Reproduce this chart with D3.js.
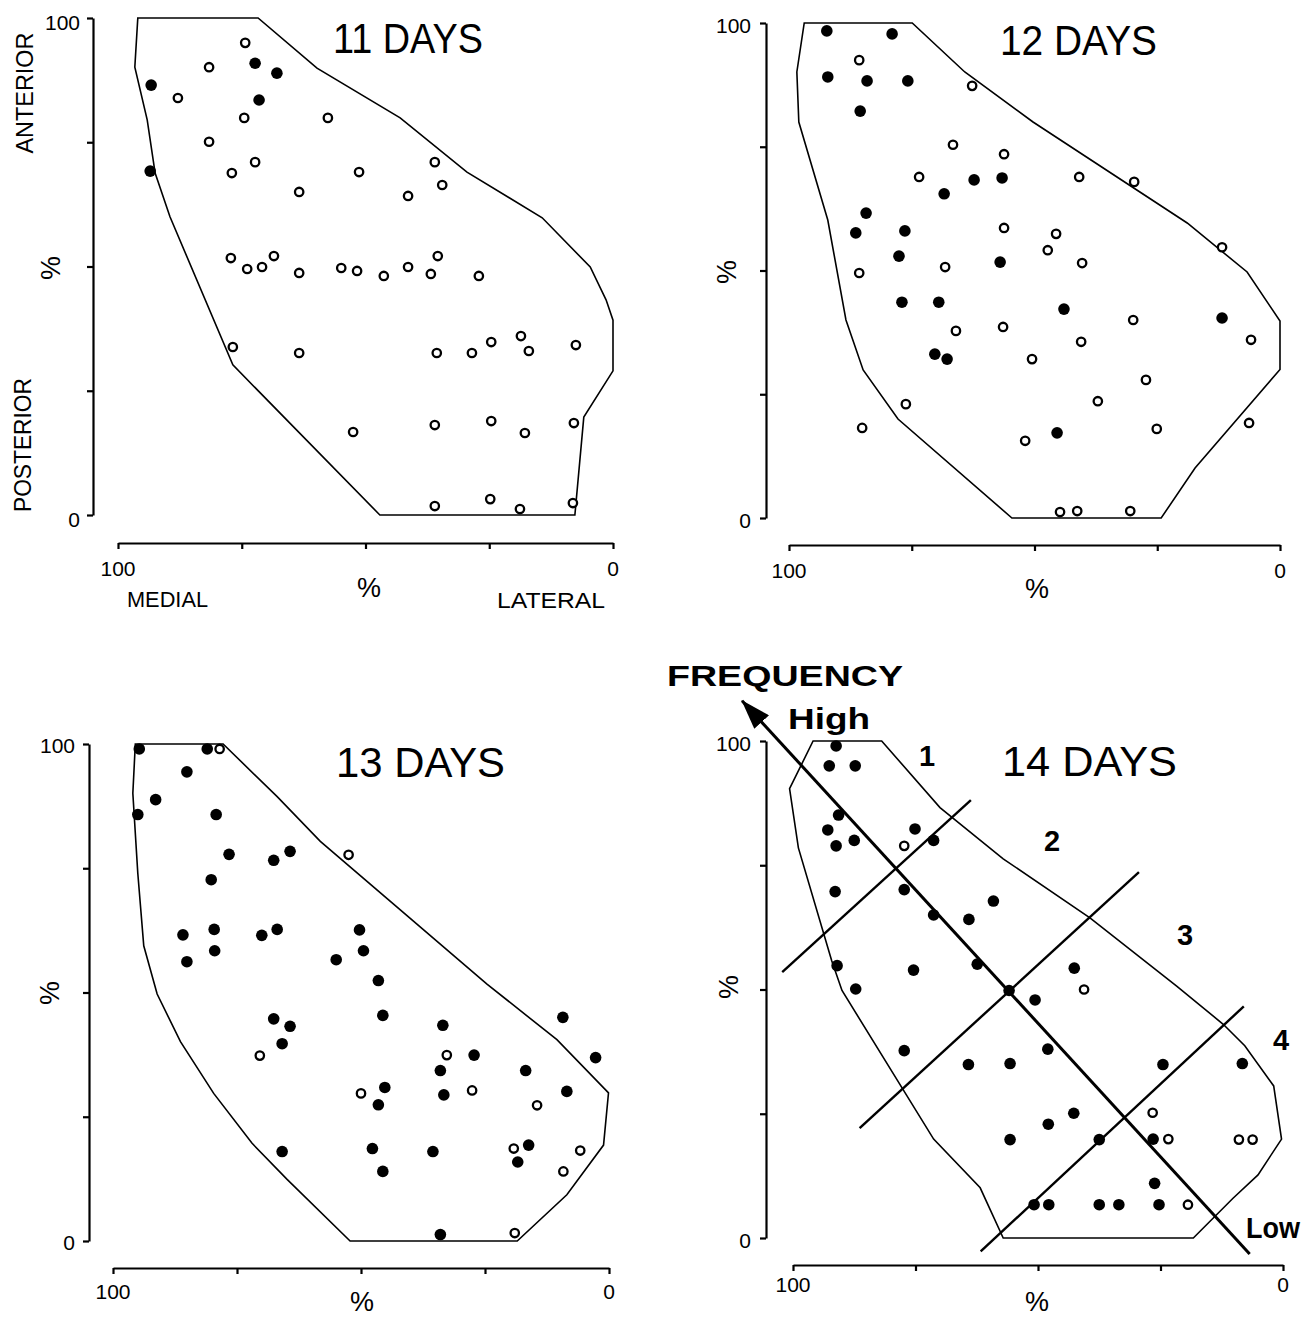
<!DOCTYPE html>
<html><head><meta charset="utf-8">
<script src="https://cdn.jsdelivr.net/npm/d3@7"></script>
<style>body{margin:0;background:#fff}svg{display:block}</style>
</head><body>
<svg id="c" width="1306" height="1317"></svg>
<script>
// ---------------- DATA ----------------
const yTickValues = [0, 25, 50, 75, 100];
const xTickValues = [100, 75, 50, 25, 0];
const endTickLabels = [100, 0];
const titles = ["11 DAYS", "12 DAYS", "13 DAYS", "14 DAYS"];
const axisWords = { medial: "MEDIAL", lateral: "LATERAL", anterior: "ANTERIOR", posterior: "POSTERIOR", pct: "%" };

// 11 days
const d11Outline = [[96,100],[71.7,100],[59.8,89.9],[43,79.9],[29.5,69],[14.3,59.8],[4.6,49.9],[1.4,43.3],[0,39.2],[0,29],[5.9,19.7],[7.7,0],[47.1,0],[76.8,30.2],[89.5,60],[92.5,68.8],[94.1,79.5],[96.6,90.1]];
const d11Filled = [[72.3,90.9],[67.9,88.9],[93.3,86.5],[71.5,83.5],[93.5,69.2]];
const d11Open = [[74.3,95.0],[81.6,90.1],[87.9,83.9],[74.5,79.9],[57.6,79.9],[81.6,75.1],[72.3,71.0],[77.0,68.8],[63.4,65.0],[51.3,69.0],[36.0,71.0],[34.5,66.4],[41.4,64.2],
 [77.2,51.7],[73.9,49.5],[70.9,49.9],[68.5,52.1],[63.4,48.7],[54.9,49.7],[51.7,49.1],[46.3,48.1],[41.4,49.9],[36.8,48.5],[35.4,52.1],[27.1,48.1],
 [76.8,33.8],[63.4,32.6],[35.6,32.6],[28.5,32.6],[24.6,34.8],[18.6,36.0],[17.0,33.0],[7.5,34.2],
 [52.5,16.7],[36.0,18.1],[24.6,18.9],[17.8,16.5],[7.9,18.5],
 [36.0,1.8],[24.8,3.2],[18.8,1.2],[8.1,2.4]];

// 12 days
const d12Outline = [[96.9,100],[74.9,100],[64.2,90.1],[50.3,80],[18.9,59.6],[6.7,49.7],[0,39.8],[0,30],[17.3,10.1],[24.2,0],[54.6,0],[77.8,20],[84.9,29.9],[88.4,40],[92.1,60.2],[98,80],[98.4,90.1]];
const d12Filled = [[92.3,98.4],[79.0,97.8],[92.1,89.1],[84.1,88.3],[75.8,88.3],[85.5,82.2],[62.3,68.3],[56.6,68.7],[68.4,65.5],[84.3,61.6],[86.4,57.6],[76.4,58.0],[77.6,52.9],[57.0,51.7],[77.0,43.6],[69.5,43.6],[70.3,33.1],[67.8,32.1],[44.0,42.2],[11.8,40.4],[45.4,17.2]];
const d12Open = [[85.7,92.5],[62.7,87.3],[66.6,75.4],[56.2,73.5],[73.5,68.9],[56.2,58.6],[68.2,50.7],[85.7,49.5],[66.0,37.8],[56.4,38.6],[76.2,23.0],[85.1,18.2],
 [40.9,68.9],[29.7,67.9],[11.8,54.7],[45.6,57.4],[47.3,54.1],[40.3,51.5],
 [29.9,40.0],[5.9,36.0],[40.5,35.6],[50.5,32.1],[27.3,27.9],[37.1,23.6],[51.9,15.6],[25.1,18.0],[6.3,19.2],[44.8,1.2],[41.3,1.4],[30.5,1.4]];

// 13 days
const d13Outline = [[95.5,100],[77.8,100],[66.9,89.4],[58.2,80.4],[24.6,51.7],[10.5,40.5],[0.1,29.8],[1.1,19.3],[8.5,9.3],[18.5,0],[52.2,0],[64.9,12.4],[72,19.7],[79.7,29.7],[86.4,40.1],[91.1,49.7],[93.8,59.4],[95,74],[96,90.1]];
const d13Filled = [[94.7,99.0],[81.0,99.0],[85.1,94.4],[91.4,88.8],[95.0,85.8],[79.2,85.8],[76.6,77.8],[67.6,76.6],[64.3,78.4],[80.2,72.7],[85.9,61.6],[79.6,62.7],[70.0,61.5],[66.9,62.7],[85.1,56.2],[79.5,58.4],[55.0,56.6],[50.3,62.6],[49.5,58.4],[67.6,44.7],[64.3,43.2],[65.9,39.7],[65.9,18.0],
 [46.5,52.4],[45.6,45.4],[33.5,43.4],[27.2,37.4],[34.0,34.3],[33.3,29.4],[45.2,30.9],[46.5,27.4],[47.7,18.6],[45.6,14.0],[35.5,18.0],[34.0,1.3],[16.8,34.3],[9.3,45.0],[2.7,36.9],[8.5,30.1],[16.2,19.3],[18.4,15.9]];
const d13Open = [[78.5,99.0],[52.5,77.7],[70.4,37.3],[50.0,29.7],[32.7,37.4],[27.6,30.3],[14.5,27.3],[19.2,18.6],[5.8,18.2],[9.2,14.0],[19.0,1.6]];

// 14 days
const d14Outline = [[95.9,100],[81.9,100],[70,86.6],[57.1,76.3],[39.4,64.4],[21.7,50.7],[12.2,43],[7.8,38.7],[1.9,30.6],[0.3,19.9],[5.1,12.7],[10.2,8],[18.3,0],[57.1,0],[61.8,10.1],[71.3,19.9],[90,49.8],[92.1,55.8],[98.9,78.5],[100.7,90.4]];
const d14Filled = [[91.2,99.0],[92.6,95.0],[87.3,95.0],[90.7,85.1],[92.9,82.1],[91.2,78.9],[87.5,80.0],[75.1,82.3],[71.3,80.0],[91.4,69.7],[77.3,70.1],[71.3,65.0],[64.1,64.1],[62.4,55.1],[91.0,54.8],[75.4,53.9],[87.2,50.1],[77.3,37.7],[64.2,34.9],
 [59.1,67.8],[42.6,54.3],[55.9,49.8],[50.6,47.9],[48.0,38.0],[55.7,35.1],[24.5,34.9],[8.3,35.1],[42.7,25.1],[47.9,22.9],[55.7,19.8],[37.5,19.8],[26.5,19.9],[26.2,11.0],[50.8,6.7],[47.8,6.7],[37.5,6.7],[33.5,6.7],[25.3,6.7]];
const d14Open = [[77.3,78.9],[40.6,50.0],[26.6,25.2],[23.4,19.9],[9.0,19.8],[6.2,19.8],[19.4,6.7]];

// frequency gradient overlay (14 days)
const freqAxisLow = [6.8, -3.2];
const freqAxisHigh = [110.4, 108.1];
const freqDividers = [[[102.2,53.5],[63.7,88.1]], [[86.4,22.1],[29.4,73.6]], [[61.7,-2.7],[8.0,46.6]]];
const freqZones = ["1", "2", "3", "4"];
const freqWords = { title: "FREQUENCY", high: "High", low: "Low" };

// ---------------- LAYOUT ----------------
const FONT = "'Liberation Sans', Arial, Helvetica, sans-serif";
const panels = [
  { outline: d11Outline, filled: d11Filled, open: d11Open,
    x100: 118, x0: 613, y100: 18, y0: 515, axX: 93, axY: 543,
    title: { x: 333, y: 53, w: 150 }, yLabDx: 13, yLabDy: 12, xLabY: 576,
    pctX: { x: 369, y: 597 }, pctY: { x: 51, y: 268 }, words: true },
  { outline: d12Outline, filled: d12Filled, open: d12Open,
    x100: 789, x0: 1280, y100: 23, y0: 518, axX: 766, axY: 545,
    title: { x: 1000, y: 55, w: 157 }, yLabDx: 15, yLabDy: 10, xLabY: 578,
    pctX: { x: 1037, y: 598 }, pctY: { x: 727, y: 272 } },
  { outline: d13Outline, filled: d13Filled, open: d13Open,
    x100: 113, x0: 609, y100: 744, y0: 1241, axX: 89, axY: 1268,
    title: { x: 336, y: 777, w: 169 }, yLabDx: 14, yLabDy: 9, xLabY: 1299,
    pctX: { x: 362, y: 1311 }, pctY: { x: 50, y: 993 } },
  { outline: d14Outline, filled: d14Filled, open: d14Open,
    x100: 793, x0: 1283, y100: 741, y0: 1238, axX: 766, axY: 1265,
    title: { x: 1002, y: 776, w: 175 }, yLabDx: 15, yLabDy: 10, xLabY: 1292,
    pctX: { x: 1037, y: 1311 }, pctY: { x: 729, y: 987 }, freq: true }
];

const svg = d3.select("#c");
svg.append("rect").attr("width", 1306).attr("height", 1317).attr("fill", "#fff");
const defs = svg.append("defs");
defs.append("marker").attr("id", "arr").attr("viewBox", "0 0 30 20")
  .attr("refX", 29).attr("refY", 10).attr("markerWidth", 30).attr("markerHeight", 20)
  .attr("markerUnits", "userSpaceOnUse").attr("orient", "auto")
  .append("path").attr("d", "M0,0 L30,10 L0,20 Z").attr("fill", "#000");

panels.forEach((p, i) => {
  const x = d3.scaleLinear().domain([100, 0]).range([p.x100, p.x0]);
  const y = d3.scaleLinear().domain([0, 100]).range([p.y0, p.y100]);
  const g = svg.append("g");

  // axes
  const ya = d3.axisLeft(y).tickValues(yTickValues).tickSize(6).tickSizeOuter(0).tickFormat("");
  const gy = g.append("g").attr("transform", `translate(${p.axX},0)`).call(ya);
  const xa = d3.axisBottom(x).tickValues(xTickValues).tickSize(6).tickSizeOuter(0).tickFormat("");
  const gx = g.append("g").attr("transform", `translate(0,${p.axY})`).call(xa);
  [gy, gx].forEach(a => { a.selectAll("path,line").attr("stroke", "#000").attr("stroke-width", 2.2); });

  // tick labels
  endTickLabels.forEach(v => {
    g.append("text").attr("x", p.axX - p.yLabDx).attr("y", y(v) + p.yLabDy)
      .attr("text-anchor", "end").attr("font-family", FONT).attr("font-size", 21).text(v);
    g.append("text").attr("x", x(v)).attr("y", p.xLabY)
      .attr("text-anchor", "middle").attr("font-family", FONT).attr("font-size", 21).text(v);
  });
  g.append("text").attr("x", p.pctX.x).attr("y", p.pctX.y).attr("text-anchor", "middle")
    .attr("font-family", FONT).attr("font-size", 27).text(axisWords.pct);
  g.append("text").attr("transform", `translate(${p.pctY.x},${p.pctY.y}) rotate(-90)`)
    .attr("text-anchor", "middle").attr("dominant-baseline", "central")
    .attr("font-family", FONT).attr("font-size", 27).text(axisWords.pct);

  if (p.words) {
    g.append("text").attr("x", 127).attr("y", 607).attr("font-family", FONT).attr("font-size", 22)
      .attr("textLength", 81).attr("lengthAdjust", "spacingAndGlyphs").text(axisWords.medial);
    g.append("text").attr("x", 497).attr("y", 608).attr("font-family", FONT).attr("font-size", 22)
      .attr("textLength", 108).attr("lengthAdjust", "spacingAndGlyphs").text(axisWords.lateral);
    g.append("text").attr("transform", "translate(24,93) rotate(-90)").attr("text-anchor", "middle")
      .attr("dominant-baseline", "central").attr("font-family", FONT).attr("font-size", 24)
      .attr("textLength", 121).attr("lengthAdjust", "spacingAndGlyphs").text(axisWords.anterior);
    g.append("text").attr("transform", "translate(22,445) rotate(-90)").attr("text-anchor", "middle")
      .attr("dominant-baseline", "central").attr("font-family", FONT).attr("font-size", 24)
      .attr("textLength", 134).attr("lengthAdjust", "spacingAndGlyphs").text(axisWords.posterior);
  }

  // title
  g.append("text").attr("x", p.title.x).attr("y", p.title.y).attr("font-family", FONT)
    .attr("font-size", 43).attr("textLength", p.title.w).attr("lengthAdjust", "spacingAndGlyphs")
    .text(titles[i]);

  // outline
  g.append("path").attr("d", d3.line().x(d => x(d[0])).y(d => y(d[1]))(p.outline) + "Z")
    .attr("fill", "none").attr("stroke", "#000").attr("stroke-width", 1.6).attr("stroke-linejoin", "miter");

  // frequency overlay
  if (p.freq) {
    freqDividers.forEach(seg => {
      g.append("line").attr("x1", x(seg[0][0])).attr("y1", y(seg[0][1]))
        .attr("x2", x(seg[1][0])).attr("y2", y(seg[1][1]))
        .attr("stroke", "#000").attr("stroke-width", 2.4);
    });
    g.append("line").attr("x1", x(freqAxisLow[0])).attr("y1", y(freqAxisLow[1]))
      .attr("x2", x(freqAxisHigh[0])).attr("y2", y(freqAxisHigh[1]))
      .attr("stroke", "#000").attr("stroke-width", 3).attr("marker-end", "url(#arr)");
    const zonePos = [[927, 766], [1052, 851], [1185, 945], [1281, 1050]];
    freqZones.forEach((z, k) => {
      g.append("text").attr("x", zonePos[k][0]).attr("y", zonePos[k][1]).attr("text-anchor", "middle")
        .attr("font-family", FONT).attr("font-weight", "bold").attr("font-size", 29).text(z);
    });
    g.append("text").attr("x", 667).attr("y", 686).attr("font-family", FONT).attr("font-weight", "bold")
      .attr("font-size", 29).attr("textLength", 236).attr("lengthAdjust", "spacingAndGlyphs").text(freqWords.title);
    g.append("text").attr("x", 788).attr("y", 729).attr("font-family", FONT).attr("font-weight", "bold")
      .attr("font-size", 29).attr("textLength", 82).attr("lengthAdjust", "spacingAndGlyphs").text(freqWords.high);
    g.append("text").attr("x", 1246).attr("y", 1238).attr("font-family", FONT).attr("font-weight", "bold")
      .attr("font-size", 29).attr("textLength", 54).attr("lengthAdjust", "spacingAndGlyphs").text(freqWords.low);
  }

  // points
  g.selectAll("circle.f").data(p.filled).join("circle").attr("class", "f")
    .attr("cx", d => x(d[0])).attr("cy", d => y(d[1])).attr("r", 5.8).attr("fill", "#000");
  g.selectAll("circle.o").data(p.open).join("circle").attr("class", "o")
    .attr("cx", d => x(d[0])).attr("cy", d => y(d[1])).attr("r", 4.2)
    .attr("fill", "#fff").attr("stroke", "#000").attr("stroke-width", 2.3);
});
</script>
</body></html>
